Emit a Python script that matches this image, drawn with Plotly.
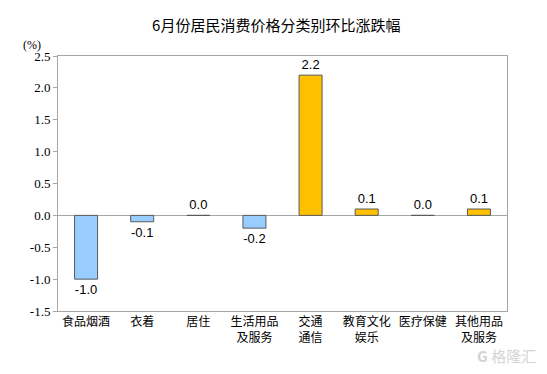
import plotly.graph_objects as go

categories = ["食品烟酒", "衣着", "居住", "生活用品<br>及服务", "交通<br>通信", "教育文化<br>娱乐", "医疗保健", "其他用品<br>及服务"]
values = [-1.0, -0.1, 0.0, -0.2, 2.2, 0.1, 0.0, 0.1]
tick_vals = [-1.5, -1.0, -0.5, 0.0, 0.5, 1.0, 1.5, 2.0, 2.5]
tick_text = ["-1.5", "-1.0", "-0.5", "0.0", "0.5", "1.0", "1.5", "2.0", "2.5"]

colors = ["#99CCFF" if v < 0 else "#FFC000" for v in values]
labels = [f"{v:.1f}" for v in values]

fig = go.Figure()
fig.add_trace(go.Bar(
    x=list(range(len(categories))),
    y=values,
    marker=dict(color=colors, line=dict(color="#5a5a5a", width=1)),
    width=0.41,
    text=labels,
    textposition="outside",
    textfont=dict(family="Liberation Sans, Arial", size=13, color="#000000"),
    cliponaxis=False,
))

fig.update_layout(
    width=547, height=374,
    margin=dict(l=58, r=40, t=56, b=63),
    paper_bgcolor="white", plot_bgcolor="white",
    showlegend=False,
    title=dict(text="6月份居民消费价格分类别环比涨跌幅", x=0.505, xanchor="center", y=0.93, yanchor="middle",
               font=dict(family="Noto Sans CJK SC", size=15, color="#000000")),
    font=dict(family="Noto Sans CJK SC", size=12, color="#000000"),
)
fig.update_xaxes(
    tickmode="array", tickvals=list(range(len(categories))), ticktext=categories,
    range=[-0.5, len(categories) - 0.5],
    showgrid=False, zeroline=False,
    showline=True, linecolor="#a6a6a6", linewidth=1, mirror=True,
    ticks="", tickfont=dict(family="Noto Sans CJK SC", size=12, color="#000000"),
)
fig.update_yaxes(
    range=[-1.5, 2.5], tickmode="array", tickvals=tick_vals, ticktext=tick_text,
    showgrid=False, zeroline=True, zerolinecolor="#a6a6a6", zerolinewidth=1,
    showline=True, linecolor="#a6a6a6", linewidth=1, mirror=True,
    ticks="outside", ticklen=4, tickcolor="#a6a6a6",
    tickfont=dict(family="Liberation Serif, Times New Roman, serif", size=13, color="#000000"),
)
fig.add_annotation(text="(%)", xref="paper", yref="paper", x=-0.057, y=1.0, xanchor="center", yanchor="bottom",
                   yshift=2, showarrow=False, font=dict(family="Liberation Serif, serif", size=12, color="#000000"))
fig.add_annotation(text="<b>G</b> 格隆汇", xref="paper", yref="paper", x=1.07, y=-0.175, xanchor="right", yanchor="middle",
                   showarrow=False, font=dict(family="Noto Sans CJK SC", size=15, color="#d4d4d4"))

fig.write_html("out.html", config={"displayModeBar": False},
               post_script="document.body.style.margin='0';document.body.style.padding='0';")
